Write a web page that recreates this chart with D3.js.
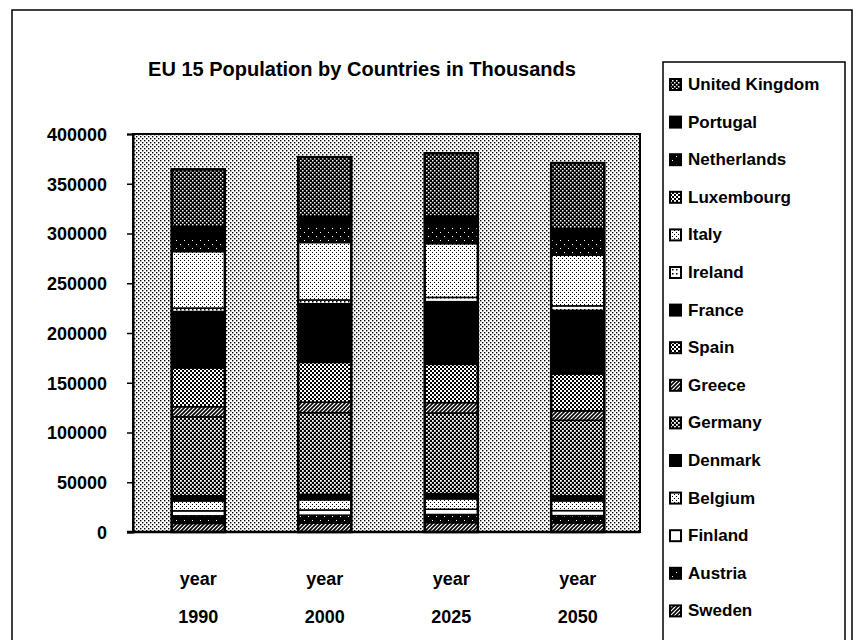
<!DOCTYPE html>
<html>
<head>
<meta charset="utf-8">
<script src="https://cdn.jsdelivr.net/npm/d3@7"></script>
<style>
  html, body { margin: 0; padding: 0; background: #fff; }
  svg text { font-family: "Liberation Sans", Arial, sans-serif; font-weight: bold; fill: #000; }
</style>
</head>
<body>
<svg id="chart" width="854" height="640"></svg>
<script>
// ---------- DATA ----------
const title = "EU 15 Population by Countries in Thousands";
const years = ["1990", "2000", "2025", "2050"];
// stacking order: bottom to top
const countries = ["Sweden", "Austria", "Finland", "Belgium", "Denmark", "Germany", "Greece",
  "Spain", "France", "Ireland", "Italy", "Luxembourg", "Netherlands", "Portugal", "United Kingdom"];
const sweden      = [8560, 8860, 9300, 9000];
const austria     = [7720, 8100, 8300, 7500];
const finland     = [4990, 5180, 5300, 5000];
const belgium     = [9950, 10250, 10400, 9800];
const denmark     = [5140, 5340, 5300, 5000];
const germany     = [79400, 82200, 81000, 76000];
const greece      = [10120, 10600, 10400, 9500];
const spain       = [38960, 39900, 38500, 37000];
const france      = [56740, 59000, 63000, 64000];
const ireland     = [3500, 3790, 4300, 4500];
const italy       = [56740, 57700, 54000, 51000];
const luxembourg  = [380, 440, 500, 500];
const netherlands = [14950, 15900, 17500, 17000];
const portugal    = [9900, 10000, 9800, 9000];
const unitedKingdom = [57410, 59500, 63000, 66000];
const yTicks = [0, 50000, 100000, 150000, 200000, 250000, 300000, 350000, 400000];

const seriesValues = {
  "Sweden": sweden, "Austria": austria, "Finland": finland, "Belgium": belgium,
  "Denmark": denmark, "Germany": germany, "Greece": greece, "Spain": spain,
  "France": france, "Ireland": ireland, "Italy": italy, "Luxembourg": luxembourg,
  "Netherlands": netherlands, "Portugal": portugal, "United Kingdom": unitedKingdom
};
const table = years.map((y, i) => {
  const row = { year: y };
  countries.forEach(c => row[c] = seriesValues[c][i]);
  return row;
});

// ---------- SETUP ----------
const svg = d3.select("#chart");
const defs = svg.append("defs");

function pat(id, size, bg, draw) {
  const p = defs.append("pattern").attr("id", id).attr("patternUnits", "userSpaceOnUse")
    .attr("width", size).attr("height", size);
  p.append("rect").attr("width", size).attr("height", size).attr("fill", bg);
  draw(p);
}
function dots(p, pts, s, color) {
  pts.forEach(([x, y]) => p.append("rect").attr("x", x).attr("y", y).attr("width", s).attr("height", s).attr("fill", color));
}
pat("p-bg", 4, "#fff", p => dots(p, [[0, 0], [2, 2]], 1.4, "#000"));
pat("p-dark", 4, "#000", p => dots(p, [[0, 0], [2, 2]], 1.5, "#fff"));
pat("p-sparse", 8, "#000", p => dots(p, [[0, 0], [4, 4]], 1, "#fff"));
pat("p-light", 4, "#fff", p => dots(p, [[0, 0], [2, 2]], 1, "#000"));
pat("p-mid", 4, "#fff", p => dots(p, [[0, 0], [2, 2]], 2, "#000"));
pat("p-germ", 4, "#000", p => dots(p, [[0, 0], [2, 2]], 1.8, "#fff"));
pat("p-hatch", 4, "#fff", p => p.append("path").attr("d", "M-1,5 L5,-1 M-1,1 L1,-1 M3,5 L5,3").attr("stroke", "#000").attr("stroke-width", 1.6));
pat("p-white", 4, "#fff", p => {});
pat("p-black", 4, "#000", p => {});
pat("p-dotrow", 4, "#fff", p => dots(p, [[0, 1]], 1.5, "#000"));

const fills = {
  "United Kingdom": "p-dark", "Portugal": "p-black", "Netherlands": "p-sparse",
  "Luxembourg": "p-mid", "Italy": "p-light", "Ireland": "p-dotrow", "France": "p-black",
  "Spain": "p-mid", "Greece": "p-hatch", "Germany": "p-germ", "Denmark": "p-black",
  "Belgium": "p-light", "Finland": "p-white", "Austria": "p-sparse", "Sweden": "p-hatch"
};

// outer frame
svg.append("path").attr("d", "M12,640 L12,10 L852,10 L852,640")
  .attr("fill", "none").attr("stroke", "#000").attr("stroke-width", 1.5);

const plot = { left: 133, right: 640, top: 134, bottom: 532 };

const x = d3.scaleBand().domain(years).range([plot.left + 2, plot.right + 1]).paddingInner(0.58).paddingOuter(0.29);
const y = d3.scaleLinear().domain([0, 400000]).range([plot.bottom, plot.top]);

// title
svg.append("text").attr("x", 362).attr("y", 76).attr("text-anchor", "middle")
  .style("font-size", "20px").text(title);

// plot background
svg.append("rect").attr("x", plot.left).attr("y", plot.top)
  .attr("width", plot.right - plot.left).attr("height", plot.bottom - plot.top)
  .attr("fill", "url(#p-bg)").attr("stroke", "#000").attr("stroke-width", 2);

// stacked bars
const stack = d3.stack().keys(countries)(table);
const g = svg.append("g");
stack.forEach(layer => {
  g.selectAll(null).data(layer).join("rect")
    .attr("x", d => x(d.data.year))
    .attr("width", x.bandwidth())
    .attr("y", d => y(d[1]))
    .attr("height", d => y(d[0]) - y(d[1]))
    .attr("fill", `url(#${fills[layer.key]})`)
    .attr("stroke", "#000").attr("stroke-width", 1.5);
});
// bar outlines
g.selectAll(null).data(stack[stack.length - 1]).join("rect")
  .attr("x", d => x(d.data.year)).attr("width", x.bandwidth())
  .attr("y", d => y(d[1])).attr("height", d => y(0) - y(d[1]))
  .attr("fill", "none").attr("stroke", "#000").attr("stroke-width", 2.5);

// y axis
const yAxis = svg.append("g").attr("transform", `translate(${plot.left},0)`)
  .call(d3.axisLeft(y).tickValues(yTicks).tickSize(6).tickPadding(20).tickFormat(d3.format("d")));
yAxis.select(".domain").attr("stroke", "#000").attr("stroke-width", 2);
yAxis.selectAll(".tick line").attr("stroke", "#000").attr("stroke-width", 1.5);
yAxis.selectAll(".tick text").style("font-size", "18px").style("font-family", "Liberation Sans, Arial, sans-serif").attr("dy", "0.35em");

// baseline
svg.append("line").attr("x1", plot.left - 6).attr("x2", plot.right).attr("y1", y(0)).attr("y2", y(0))
  .attr("stroke", "#000").attr("stroke-width", 2.5);

// x labels
const xl = svg.append("g");
years.forEach(yr => {
  const cx = x(yr) + x.bandwidth() / 2;
  xl.append("text").attr("x", cx).attr("y", 585).attr("text-anchor", "middle").style("font-size", "18px").text("year");
  xl.append("text").attr("x", cx).attr("y", 623).attr("text-anchor", "middle").style("font-size", "18px").text(yr);
});

// legend
svg.append("path").attr("d", "M663,645 L663,62 L845,62 L845,645")
  .attr("fill", "none").attr("stroke", "#000").attr("stroke-width", 1.5);
const legendOrder = countries.slice().reverse();
const lg = svg.append("g");
legendOrder.forEach((c, i) => {
  const cy = 84 + i * 37.6;
  lg.append("rect").attr("x", 670).attr("y", cy - 5).attr("width", 11).attr("height", 11)
    .attr("fill", `url(#${fills[c]})`).attr("stroke", "#000").attr("stroke-width", 2);
  lg.append("text").attr("x", 688).attr("y", cy + 6).style("font-size", "17px").text(c);
});
</script>
</body>
</html>
